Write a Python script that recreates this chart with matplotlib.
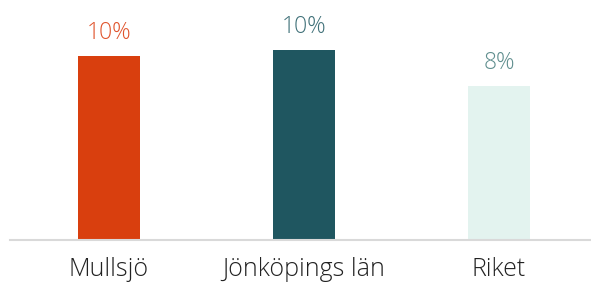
import matplotlib.pyplot as plt

categories = ["Mullsjö", "Jönköpings län", "Riket"]
values = [9.6, 9.9, 8.0]
value_labels = ["10%", "10%", "8%"]
bar_colors = ["#D93F0E", "#1F5660", "#E3F3EF"]
label_colors = ["#E0532B", "#3F7078", "#5F8E8E"]

plt.rcParams["font.family"] = ["Open Sans", "DejaVu Sans"]

fig = plt.figure(figsize=(5.91, 2.82), dpi=100)
ax = fig.add_axes([10 / 591, 42 / 282, 581 / 591, 240 / 282])

x = range(len(categories))
ax.bar(x, values, width=0.32, color=bar_colors)

for i, (v, lab) in enumerate(zip(values, value_labels)):
    ax.annotate(lab, (i, v), xytext=(0, 8), textcoords="offset points",
                ha="center", va="bottom", fontsize=16.5, fontweight="light",
                color=label_colors[i])

ax.set_xlim(-0.508, 2.472)
ax.set_ylim(0, 12.5)
ax.set_xticks(list(x))
ax.set_xticklabels(categories, fontsize=18, fontweight="light", color="#222222")
ax.tick_params(axis="x", length=0, pad=12)
ax.set_yticks([])
for side in ["top", "right", "left"]:
    ax.spines[side].set_visible(False)
ax.spines["bottom"].set_color("#D9D9D9")
ax.spines["bottom"].set_linewidth(1.5)

fig.savefig("out.png", dpi=100)
